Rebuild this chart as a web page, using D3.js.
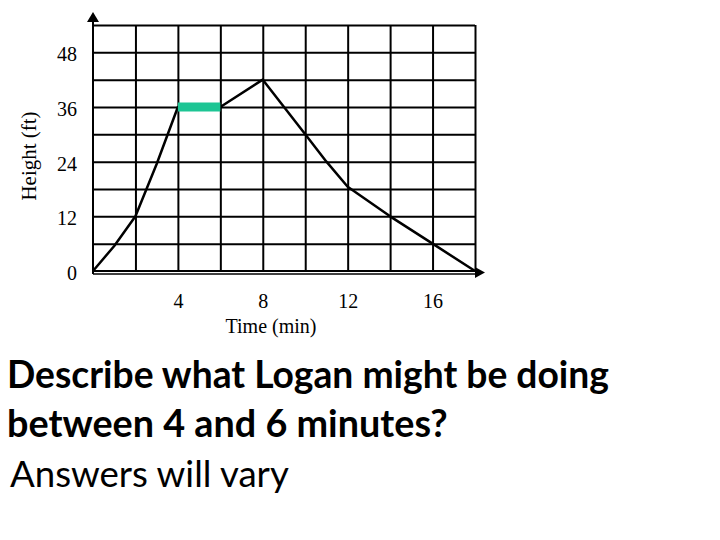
<!DOCTYPE html>
<html lang="en">
<head>
    <meta charset="UTF-8">
    <title>Height vs Time</title>
    <script src="https://d3js.org/d3.v7.min.js"></script>
    <style>
        body { margin: 0; background: #fff; }
        .grid line { stroke: #000; stroke-width: 2; }
        .grid .domain { display: none; }
        .q { font-family: Lato, "Open Sans", sans-serif; fill: #000; }
    </style>
</head>
<body>
<svg id="chart" width="720" height="540"></svg>

<script>
    // datos
    const times = [0, 1, 2, 3, 4, 6, 8, 10, 11, 12, 14, 16, 18];
    const heights = [0, 5.5, 12, 23.5, 36, 36, 42, 30, 24, 18.5, 12, 6, 0];
    const xTicks = [4, 8, 12, 16];
    const yTicks = [0, 12, 24, 36, 48];
    const gridX = [2, 4, 6, 8, 10, 12, 14, 16, 18];
    const gridY = [6, 12, 18, 24, 30, 36, 42, 48, 54];
    const flatStart = 4, flatEnd = 6, flatHeight = 36;

    const data = times.map((t, i) => ({ t: t, h: heights[i] }));

    const x = d3.scaleLinear().domain([0, 18]).range([93, 475]);
    const y = d3.scaleLinear().domain([0, 54]).range([271, 25]);

    const svg = d3.select("#chart");

    // grid vertical
    svg.append("g")
        .attr("class", "grid")
        .attr("transform", `translate(0,${y(0)})`)
        .call(d3.axisBottom(x).tickValues(gridX).tickSize(-(y(0) - y(54))).tickFormat(""));

    // grid horizontal
    svg.append("g")
        .attr("class", "grid")
        .attr("transform", `translate(${x(0)},0)`)
        .call(d3.axisLeft(y).tickValues(gridY).tickSize(-(x(18) - x(0))).tickFormat(""));

    const tickStyle = g => {
        g.select(".domain").remove();
        g.attr("font-size", 20).attr("font-family", "Liberation Serif, serif");
        g.selectAll("text").attr("fill", "#000");
    };

    // etiquetas de ejes
    svg.append("g")
        .attr("transform", `translate(0,${y(0)})`)
        .call(d3.axisBottom(x).tickValues(xTicks).tickSize(0).tickPadding(23))
        .call(tickStyle);

    svg.append("g")
        .attr("transform", `translate(${x(0) - 16},2)`)
        .call(d3.axisLeft(y).tickValues(yTicks).tickSize(0).tickPadding(0))
        .call(tickStyle);

    // ejes con flechas
    svg.append("line")
        .attr("x1", x(0)).attr("x2", x(18) + 2)
        .attr("y1", y(0)).attr("y2", y(0))
        .attr("stroke", "#000").attr("stroke-width", 2);
    svg.append("line")
        .attr("x1", x(0)).attr("x2", x(18) + 2)
        .attr("y1", y(0) + 3).attr("y2", y(0) + 3)
        .attr("stroke", "#000").attr("stroke-width", 1.5);
    svg.append("line")
        .attr("x1", x(0)).attr("x2", x(0))
        .attr("y1", y(0) + 3).attr("y2", 20)
        .attr("stroke", "#000").attr("stroke-width", 2);

    svg.append("path")
        .attr("d", `M${x(18) + 10},${y(0) + 1.5} L${x(18)},${y(0) - 4} L${x(18)},${y(0) + 7} Z`)
        .attr("fill", "#000");
    svg.append("path")
        .attr("d", `M${x(0)},12 L${x(0) - 6},22 L${x(0) + 6},22 Z`)
        .attr("fill", "#000");

    // linea de altura
    const line = d3.line()
        .x(d => x(d.t))
        .y(d => y(d.h));

    svg.append("path")
        .datum(data)
        .attr("fill", "none")
        .attr("stroke", "#000")
        .attr("stroke-width", 2.5)
        .attr("stroke-linejoin", "round")
        .attr("d", line);

    // tramo plano resaltado
    svg.append("line")
        .attr("x1", x(flatStart)).attr("x2", x(flatEnd))
        .attr("y1", y(flatHeight)).attr("y2", y(flatHeight))
        .attr("stroke", "#1dc594").attr("stroke-width", 9);

    // titulos de ejes
    svg.append("text")
        .attr("x", 271).attr("y", 333)
        .attr("text-anchor", "middle")
        .attr("font-family", "Liberation Serif, serif")
        .attr("font-size", 20)
        .text("Time (min)");

    svg.append("text")
        .attr("transform", "translate(36,156) rotate(-90)")
        .attr("text-anchor", "middle")
        .attr("font-family", "Liberation Serif, serif")
        .attr("font-size", 21)
        .text("Height (ft)");

    // pregunta
    const lines = [
        { txt: "Describe what Logan might be doing", x: 7, y: 388, w: 602, bold: true },
        { txt: "between 4 and 6 minutes?", x: 7, y: 437, w: 441, bold: true },
        { txt: "Answers will vary", x: 10, y: 487, w: 279, bold: false }
    ];
    lines.forEach(l => {
        const t = svg.append("text")
            .attr("class", "q")
            .attr("x", l.x).attr("y", l.y)
            .attr("font-size", 30)
            .attr("font-weight", l.bold ? "bold" : "normal")
            .text(l.txt);
        const len = t.node().getComputedTextLength();
        t.attr("font-size", 30 * l.w / len);
    });
</script>
</body>
</html>
